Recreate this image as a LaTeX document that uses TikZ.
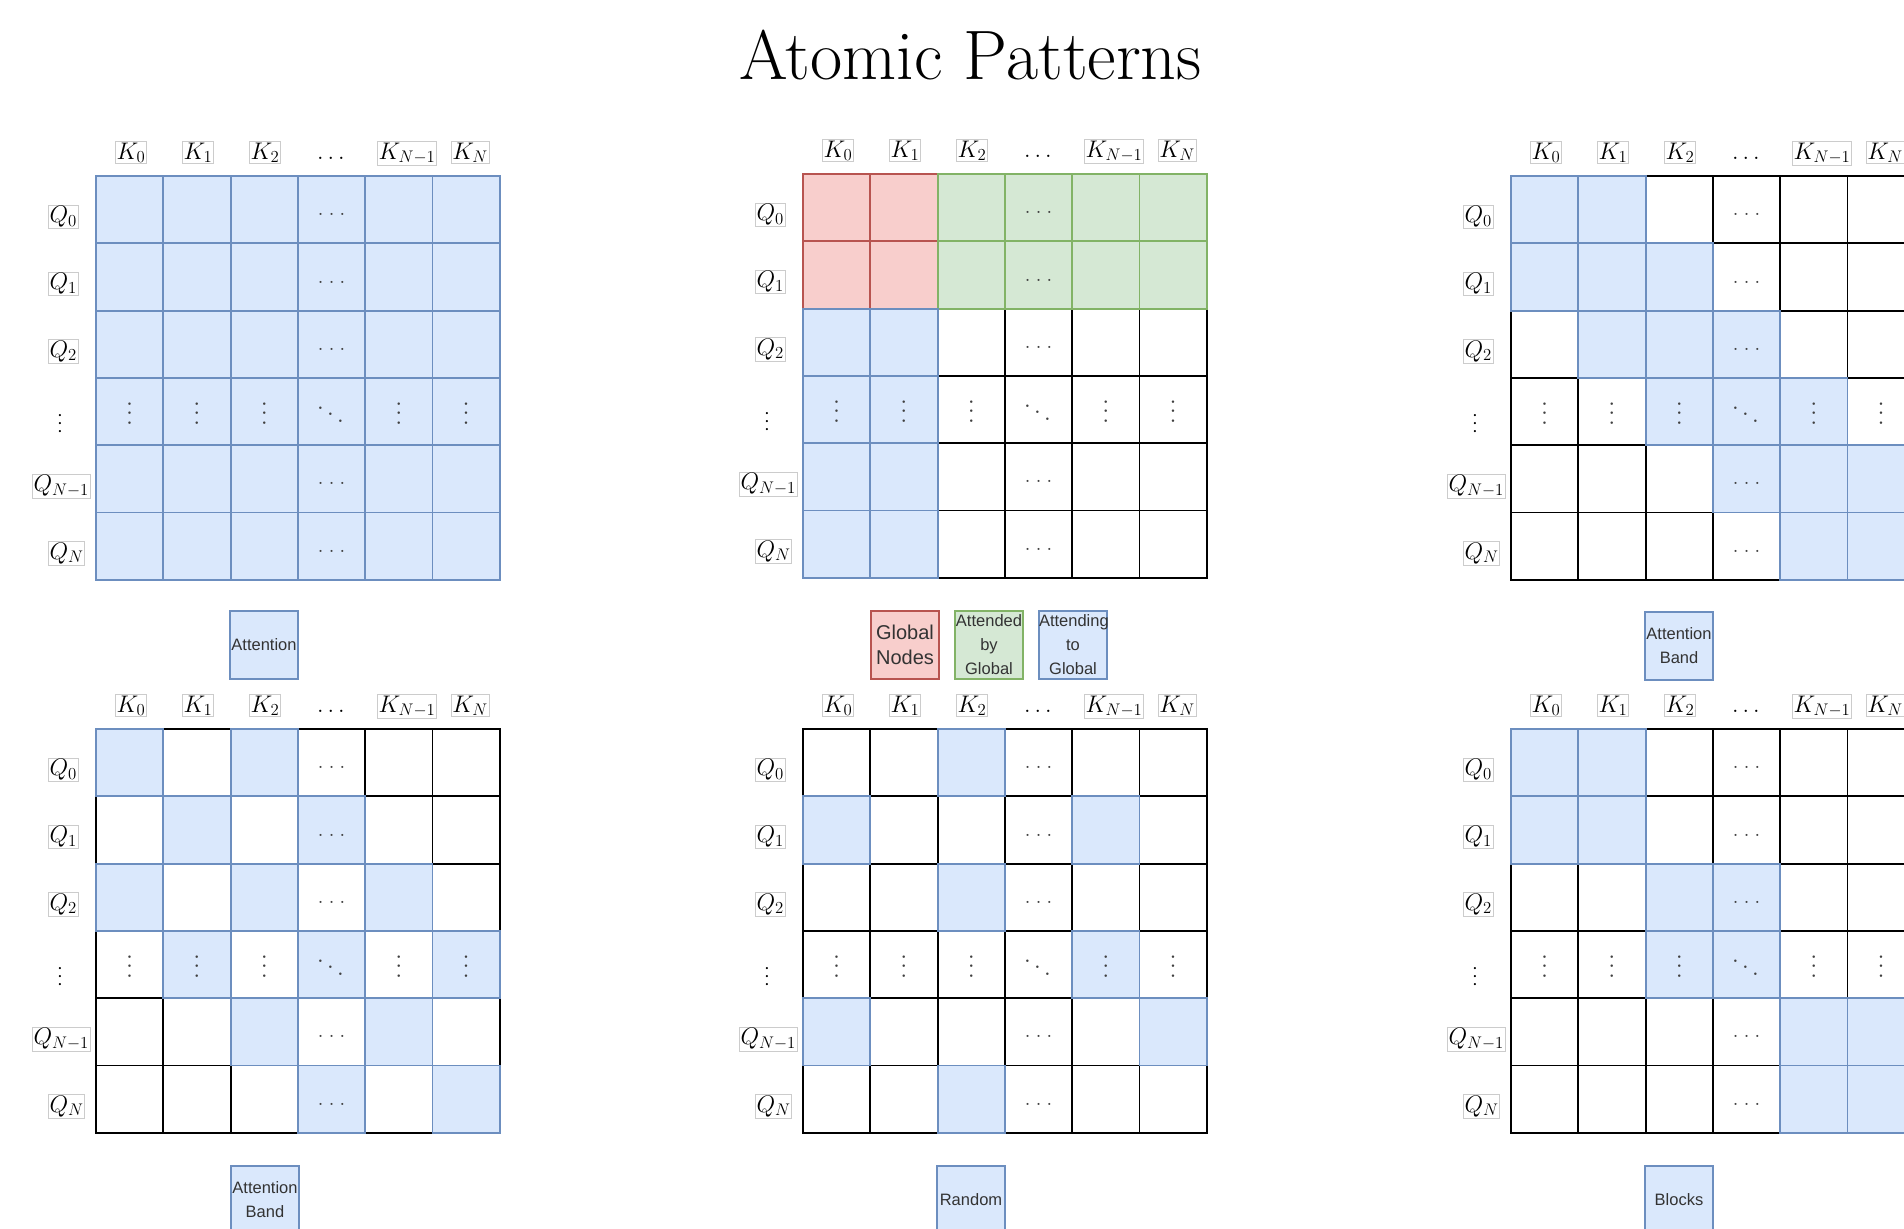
\RequirePackage{fix-cm}
\documentclass[tikz,border=0pt]{standalone}
\usepackage{fontspec}
\usepackage{graphicx}
\DeclareMathSizes{24}{24}{16.8}{12}
\newfontfamily\sanslab{Liberation Sans}
\definecolor{bfill}{HTML}{DAE8FC}
\definecolor{bdraw}{HTML}{6C8EBF}
\definecolor{rfill}{HTML}{F8CECC}
\definecolor{rdraw}{HTML}{B85450}
\definecolor{gfill}{HTML}{D5E8D4}
\definecolor{gdraw}{HTML}{82B366}
\definecolor{lblborder}{HTML}{CCCCCC}
\newcommand\vd{\rotatebox{90}{\hbox{.\kern1.22pt.\kern1.22pt.}}}
\newcommand\cellv{\scalebox{2.4}{\vd}}
\newcommand\cellh{\scalebox{2}{\hbox{.\kern2.7pt.\kern2.7pt.}}}
\newcommand\celld{\scalebox{2.4}{\hbox{\raise5.4pt\hbox{.}\kern1.4pt\raise2.7pt\hbox{.}\kern1.4pt\hbox{.}}}}
\tikzset{
  wcell/.style={draw=black, line width=1.8pt, fill=white},
  bcell/.style={draw=bdraw, line width=1.8pt, fill=bfill},
  rcell/.style={draw=rdraw, line width=1.8pt, fill=rfill},
  gcell/.style={draw=gdraw, line width=1.8pt, fill=gfill},
  mlab/.style={draw=lblborder, line width=0.8pt, inner sep=1.2pt, font=\fontsize{24}{28}\selectfont},
  dotlab/.style={inner sep=0pt, text=black!75},
  legbox/.style={draw=bdraw, fill=bfill, line width=1.5pt, minimum width=68pt, minimum height=68pt,
    inner sep=0pt, text width=68pt, align=center, font=\sanslab\fontsize{16.5}{24}\selectfont, text=black!80},
}
\newcommand\gridcells[2]{%
  \foreach \r in {0,...,5}{\foreach \c in {0,...,5}{%
    \draw[wcell] ({#1+\c*67.3},{#2+\r*67.3}) rectangle ++(67.3,67.3);}}}
\newcommand\fillcells[4]{%
  \foreach \r/\c in {#4}{%
    \draw[#1] ({#2+\c*67.3},{#3+\r*67.3}) rectangle ++(67.3,67.3);}}
\newcommand\gridlabels[3]{%
  \node[mlab, anchor=base] (#1-k0) at ({#2+35},{#3-17}) {$K_0$};
  \node[mlab, anchor=base] (#1-k1) at ({#2+102},{#3-17}) {$K_1$};
  \node[mlab, anchor=base] (#1-k2) at ({#2+169},{#3-17}) {$K_2$};
  \node[mlab, draw=none, anchor=base] (#1-k3) at ({#2+235},{#3-17}) {$\ldots$};
  \node[mlab, anchor=base] (#1-k4) at ({#2+311},{#3-17}) {$K_{N-1}$};
  \node[mlab, anchor=base] (#1-k5) at ({#2+374},{#3-17}) {$K_N$};
  \node[mlab, anchor=base west] (#1-q0) at ({#2-48},{#3+33.65+13}) {$Q_0$};
  \node[mlab, anchor=base west] (#1-q1) at ({#2-48},{#3+100.95+13}) {$Q_1$};
  \node[mlab, anchor=base west] (#1-q2) at ({#2-48},{#3+168.25+13}) {$Q_2$};
  \node[dotlab, text=black] (#1-q3) at ({#2-36},{#3+235.55+12}) {\scalebox{2.1}{\vd}};
  \node[mlab, anchor=base west] (#1-q4) at ({#2-64},{#3+302.85+13}) {$Q_{N-1}$};
  \node[mlab, anchor=base west] (#1-q5) at ({#2-48},{#3+370.15+13}) {$Q_N$};
  \foreach \r in {0,1,2,4,5}{\node[dotlab] (#1-h\r) at ({#2+235.55},{#3+(\r+0.5)*67.3+5}) {\cellh};}
  \foreach \c in {0,1,2,4,5}{\node[dotlab] (#1-v\c) at ({#2+(\c+0.5)*67.3},{#3+235.55+2}) {\cellv};}
  \node[dotlab] (#1-dd) at ({#2+234.5},{#3+238.5}) {\celld};
}
\begin{document}
\begin{tikzpicture}[x=1pt,y=-1pt]
\useasboundingbox (0,0) rectangle (1904,1229);
\fill[white] (0,0) rectangle (1904,1229);
\node[anchor=base, font=\fontsize{70}{78}\selectfont] (title) at (970.5,79) {Atomic Patterns};

% grid 1: full attention
\gridcells{96}{176}
\fillcells{bcell}{96}{176}{0/0,0/1,0/2,0/3,0/4,0/5,1/0,1/1,1/2,1/3,1/4,1/5,2/0,2/1,2/2,2/3,2/4,2/5,3/0,3/1,3/2,3/3,3/4,3/5,4/0,4/1,4/2,4/3,4/4,4/5,5/0,5/1,5/2,5/3,5/4,5/5}
\gridlabels{ga}{96}{176}
\node[legbox] (la) at (264,645) {Attention};

% grid 2: global
\gridcells{803}{174}
\fillcells{rcell}{803}{174}{0/0,0/1,1/0,1/1}
\fillcells{gcell}{803}{174}{0/2,0/3,0/4,0/5,1/2,1/3,1/4,1/5}
\fillcells{bcell}{803}{174}{2/0,2/1,3/0,3/1,4/0,4/1,5/0,5/1}
\gridlabels{gb}{803}{174}
\node[legbox, draw=rdraw, fill=rfill, font=\sanslab\fontsize{20}{25}\selectfont] (lb1) at (905,645) {Global\\Nodes};
\node[legbox, draw=gdraw, fill=gfill] (lb2) at (989,645) {Attended\\by\\Global};
\node[legbox] (lb3) at (1073,645) {Attending\\to\\Global};

% grid 3: band
\gridcells{1511}{176}
\fillcells{bcell}{1511}{176}{0/0,0/1,1/0,1/1,1/2,2/1,2/2,2/3,3/2,3/3,3/4,4/3,4/4,4/5,5/4,5/5}
\gridlabels{gc}{1511}{176}
\node[legbox] (lc) at (1679,646) {Attention\\Band};

% grid 4: dilated band
\gridcells{96}{729}
\fillcells{bcell}{96}{729}{0/0,0/2,1/1,1/3,2/0,2/2,2/4,3/1,3/3,3/5,4/2,4/4,5/3,5/5}
\gridlabels{gd}{96}{729}
\node[legbox] (ld) at (265,1200) {Attention\\Band};

% grid 5: random
\gridcells{803}{729}
\fillcells{bcell}{803}{729}{0/2,1/0,1/4,2/2,3/4,4/0,4/5,5/2}
\gridlabels{ge}{803}{729}
\node[legbox] (le) at (971,1200) {Random};

% grid 6: blocks
\gridcells{1511}{729}
\fillcells{bcell}{1511}{729}{0/0,0/1,1/0,1/1,2/2,2/3,3/2,3/3,4/4,4/5,5/4,5/5}
\gridlabels{gf}{1511}{729}
\node[legbox] (lf) at (1679,1200) {Blocks};
\end{tikzpicture}
\end{document}
